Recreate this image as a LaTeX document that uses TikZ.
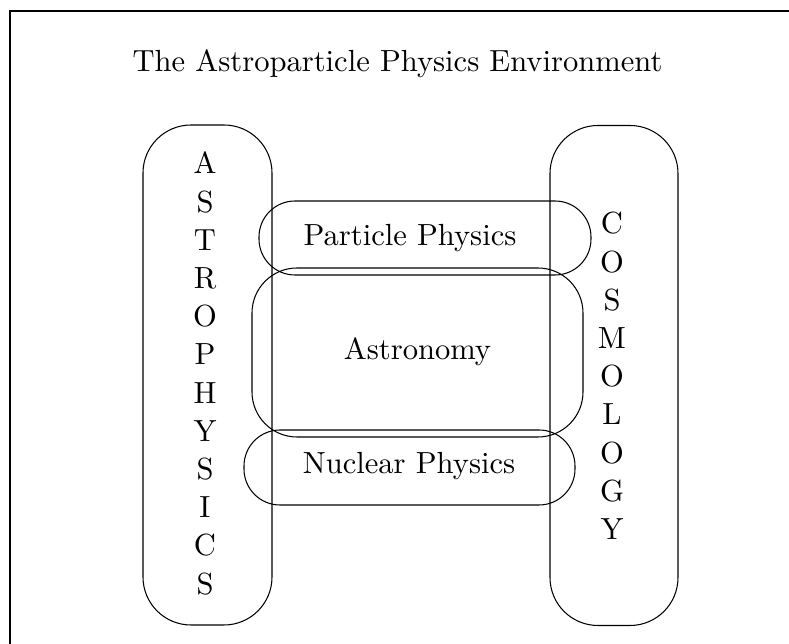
\documentclass[tikz,border=0pt]{standalone}
\usetikzlibrary{positioning}

% text set in the 10pt design, blown up (wider strokes than the 17pt design)
\newcommand{\magtext}[1]{\scalebox{1.74}{#1}}

\begin{document}
\begin{tikzpicture}[
    x=0.02cm, y=-0.02cm, % one unit is one pixel of the sheet, y downwards
    line width=0.6pt,
    bigfont/.style={font=\fontsize{10}{12}\selectfont, anchor=base}, % text size of all labels
    letter/.style={bigfont, inner sep=0pt}, % one letter of a vertical word
    pillbox/.style={draw, rounded corners=36*0.02cm, inner sep=0pt, minimum height=74*0.02cm}, % box with half round ends
    tallbox/.style={draw, rounded corners=48*0.02cm, inner sep=0pt, minimum height=500*0.02cm} % the two columns
]

    % Define the pixel unit
    \def\u{0.02cm}

    % Page size and the outer frame (cut by the page on the right and below)
    \useasboundingbox (0,0) rectangle (789,644);
    \draw (10,11) rectangle (820,670);

    % Title
    \node[bigfont] (title) at (397.5,72) {\magtext{The Astroparticle Physics Environment}};

    % The two columns
    \node[tallbox, minimum width=129*\u] (astro) at (207.5,375) {};
    \node[tallbox, minimum width=128*\u] (cosmo) at (614,375.5) {};

    % The three fields in between
    \node[pillbox, minimum width=332*\u] (particle) at (425,238) {};
    \node[draw, rounded corners=45*\u, inner sep=0pt,
          minimum width=331*\u, minimum height=169*\u] (astronomy) at (417.5,352.5) {};
    \node[pillbox, minimum width=331*\u, minimum height=75*\u] (nuclear) at (409.5,467.5) {};

    % Labels of the fields
    \node[bigfont] (particle-text) at (410,246) {\magtext{Particle Physics}};
    \node[bigfont] (astronomy-text) at (417.5,360) {\magtext{Astronomy}};
    \node[bigfont] (nuclear-text) at (409,474) {\magtext{Nuclear Physics}};

    % Vertical words, one letter per line
    \foreach \ch [count=\i from 0] in {A,S,T,R,O,P,H,Y,S,I,C,S} {
        \node[letter] (astro\i) at (205,{174+38.2*\i}) {\magtext{\ch}};
    }
    \foreach \ch [count=\i from 0] in {C,O,S,M,O,L,O,G,Y} {
        \node[letter] (cosmo\i) at (612,{234+38.2*\i}) {\magtext{\ch}};
    }

\end{tikzpicture}
\end{document}
